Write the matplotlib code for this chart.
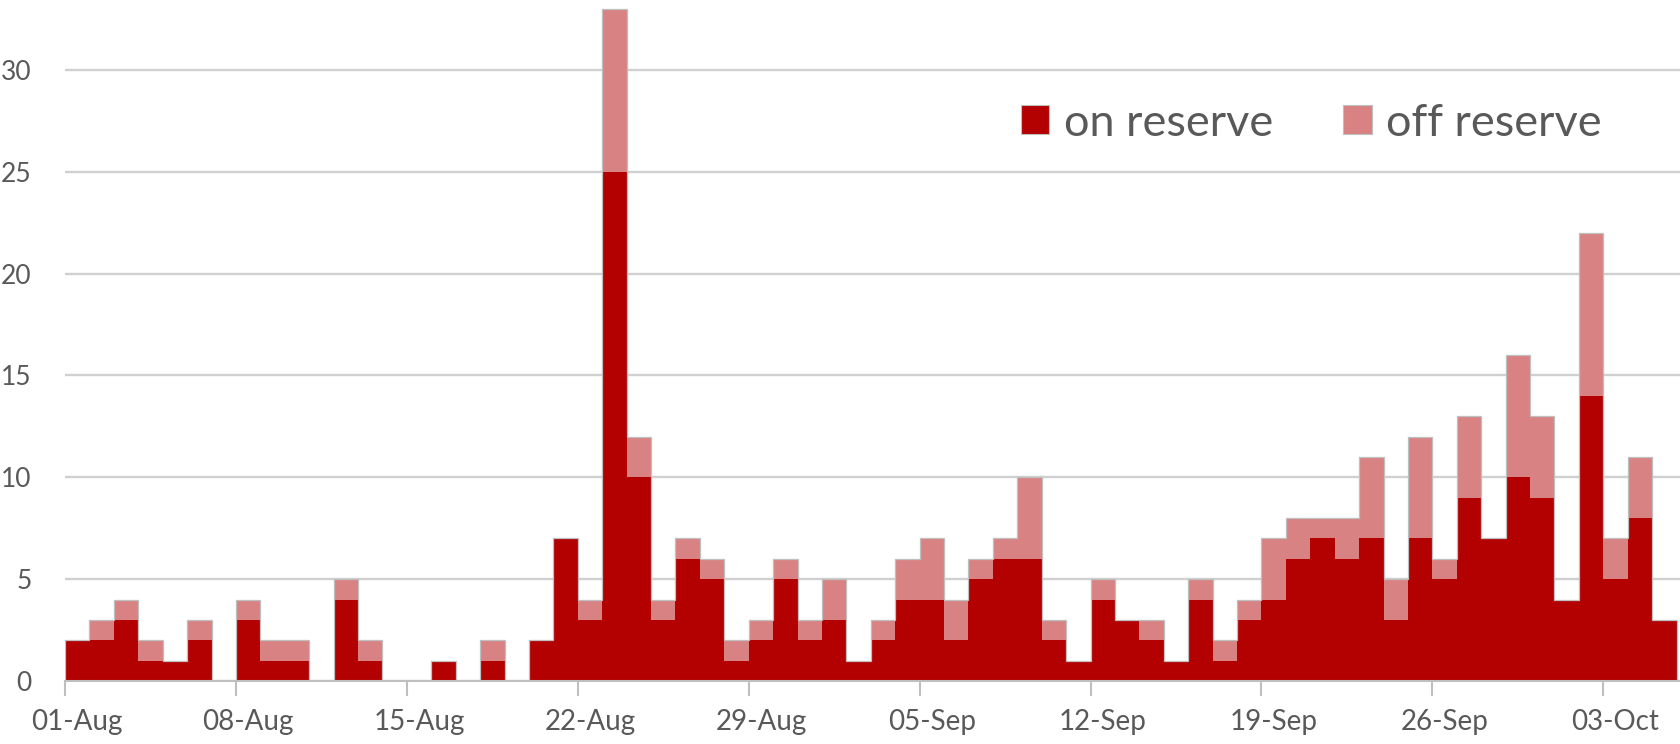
import numpy as np
import pandas as pd
import matplotlib
matplotlib.use("Agg")
import matplotlib.pyplot as plt

# daily counts, 01-Aug .. 05-Oct
start_date = "2021-08-01"
on_reserve = [2, 2, 3, 1, 1, 2, 0,
              3, 1, 1, 0, 4, 1, 0,
              0, 1, 0, 1, 0, 2, 7,
              3, 25, 10, 3, 6, 5, 1,
              2, 5, 2, 3, 1, 2, 4,
              4, 2, 5, 6, 6, 2, 1,
              4, 3, 2, 1, 4, 1, 3,
              4, 6, 7, 6, 7, 3, 7,
              5, 9, 7, 10, 9, 4, 14,
              5, 8, 3]
off_reserve = [0, 1, 1, 1, 0, 1, 0,
               1, 1, 1, 0, 1, 1, 0,
               0, 0, 0, 1, 0, 0, 0,
               1, 8, 2, 1, 1, 1, 1,
               1, 1, 1, 2, 0, 1, 2,
               3, 2, 1, 1, 4, 1, 0,
               1, 0, 1, 0, 1, 1, 1,
               3, 2, 1, 2, 4, 2, 5,
               1, 4, 0, 6, 4, 0, 8,
               2, 3, 0]
series_names = ["on reserve", "off reserve"]
yticks = [0, 5, 10, 15, 20, 25, 30]

dark_red = "#B30000"
light_red = "#D88284"
edge_gray = "#BFBFBF"
text_gray = "#595959"

days = pd.date_range(start_date, periods=len(on_reserve), freq="D")
x = np.arange(len(days))
on = np.array(on_reserve)
off = np.array(off_reserve)
total = on + off

plt.rcParams["font.family"] = ["Lato", "DejaVu Sans"]

fig = plt.figure(figsize=(16.8, 7.44), dpi=100)
ax = fig.add_axes([65 / 1680, 63 / 744, 1 - 65 / 1680, 681 / 744])

ax.bar(x, on, width=1.0, align="edge", color=dark_red, linewidth=0,
       label=series_names[0], zorder=3)
ax.bar(x, off, width=1.0, align="edge", bottom=on, color=light_red,
       linewidth=0, label=series_names[1], zorder=3)
# thin grey outline where the columns meet the background
ax.stairs(total, np.append(x, len(x)), baseline=0, color=edge_gray,
          linewidth=0.9, zorder=4)

ax.set_xlim(0, len(days) + 0.14)
ax.set_ylim(0, 33.43)

# week ticks on bar edges, labels centred on the bar
week = x[::7]
ax.set_xticks(week)
ax.set_xticklabels([])
ax.set_xticks(week + 0.5, minor=True)
ax.set_xticklabels([d.strftime("%d-%b") for d in days[::7]], minor=True)
ax.tick_params(axis="x", which="major", length=11, width=1.5, color=edge_gray)
ax.tick_params(axis="x", which="minor", length=0, pad=20, labelsize=20, labelcolor=text_gray)

ax.set_yticks(yticks)
ax.tick_params(axis="y", length=0, pad=24, labelsize=19, labelcolor=text_gray)
ax.yaxis.grid(True, color="#D0D0D0", linewidth=1.7, zorder=0)
ax.set_axisbelow(True)

for s in ["left", "top", "right"]:
    ax.spines[s].set_visible(False)
ax.spines["bottom"].set_color(edge_gray)
ax.spines["bottom"].set_linewidth(1.5)
ax.spines["bottom"].set_zorder(5)

leg = ax.legend(loc="center left", bbox_to_anchor=(1021 / 1680, 1 - 123 / 744),
                bbox_transform=fig.transFigure, ncol=2, frameon=False,
                fontsize=32.5, handlelength=0.63, handleheight=0.63,
                handletextpad=0.32, columnspacing=1.55, borderpad=0, borderaxespad=0)
for t in leg.get_texts():
    t.set_color(text_gray)
for h in leg.legend_handles:
    h.set_edgecolor(edge_gray)
    h.set_linewidth(0.8)

fig.savefig("out.png", dpi=100)
